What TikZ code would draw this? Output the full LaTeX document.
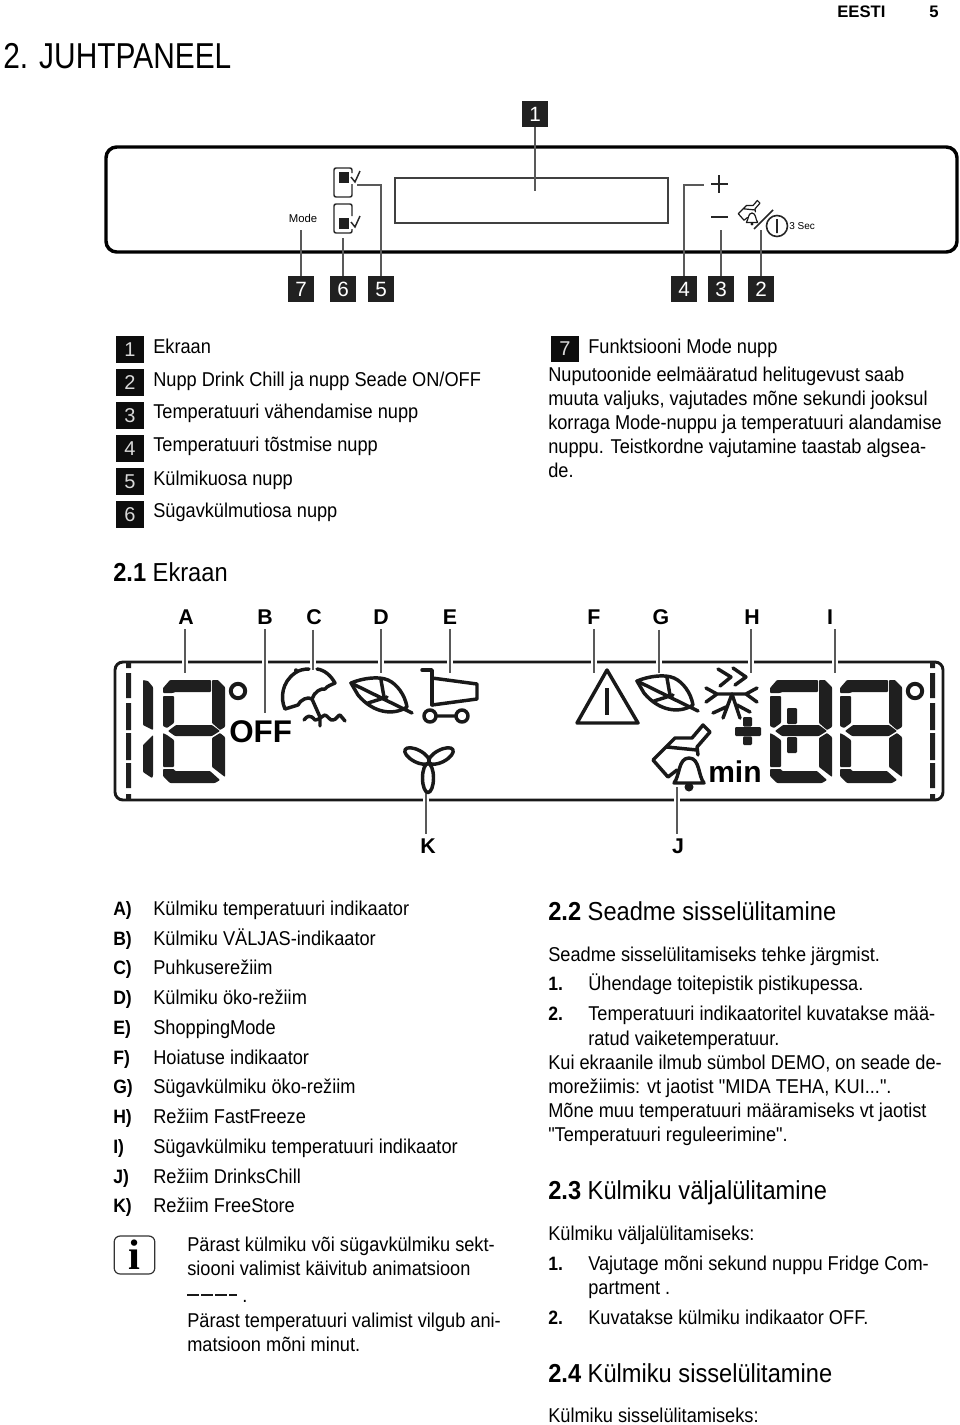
\documentclass[tikz,border=0pt]{standalone}
\usepackage{fontspec}
\usepackage{tikz}
\usetikzlibrary{positioning}
\setmainfont[FakeStretch=0.91,Ligatures=TeXOff]{Liberation Sans}
\newfontfamily\lcdfont{Liberation Sans}
\newfontfamily\headfont[FakeStretch=0.83]{Liberation Sans}
\newfontfamily\infofont{Liberation Serif}
\newcommand{\pxfont}[1]{\fontsize{#1}{#1}\selectfont}

\begin{document}
\begin{tikzpicture}[
  x=0.75pt, y=-0.75pt,
  txt/.style={anchor=base west, inner sep=0pt, font=\pxfont{15}},
  sect/.style={anchor=base west, inner sep=0pt, font=\pxfont{19.5}},
  badge/.style={fill=black!87, text=white, minimum size=19.5pt, inner sep=0pt, font=\lcdfont\pxfont{15.5}},
  listbadge/.style={fill=black!95, text=black!15, minimum width=21pt, minimum height=20pt, inner sep=0pt, text depth=-3pt, font=\lcdfont\pxfont{15}},
  lcdlabel/.style={inner sep=0pt, outer ysep=3.75pt, font=\lcdfont\bfseries\pxfont{16}},
  leader/.style={draw=black!65, line width=1.1pt},
  lcdleader/.style={leader, preaction={draw=white, line width=4.5pt}},
  icon/.style={draw=black!90, line width=2.6pt, line join=round, line cap=round},
  seg/.style={fill=black!88, rounded corners=0.6pt},
  digiteight/.pic={
    \fill[seg] (0,13) -- (0,8) -- (7,0) -- (48,0) -- (48,12) -- (12,12) -- (10,13) -- cycle;
    \fill[seg] (49,0) -- (55,0) -- (62,7) -- (62,47) -- (57,50) -- (49,43) -- cycle;
    \fill[seg] (0,16) -- (11,16) -- (11,43) -- (4,48) -- (0,46) -- cycle;
    \fill[seg] (5,51) -- (13,45) -- (49,45) -- (57,51) -- (49,56) -- (12,56) -- cycle;
    \fill[seg] (0,53) -- (4,55) -- (11,60) -- (11,87) -- (0,87) -- cycle;
    \fill[seg] (57,53) -- (62,57) -- (62,97) -- (49,87) -- (49,58) -- cycle;
    \fill[seg] (0,89) -- (11,89) -- (12,91) -- (47,91) -- (57,100) -- (52,103) -- (7,103) -- (0,96) -- cycle;
  },
  leaficon/.pic={
    \draw[icon] (0,0) .. controls (12,-5) and (28,-7) .. (37,-3) .. controls (46,1) and (54,12) .. (56,24)
      .. controls (42,33) and (22,30) .. (7,12) -- cycle;
    \draw[icon] (0,0) -- (61,30);
    \draw[icon] (30,-3) -- (33,14) (17,20) -- (36,14);
  },
  drinkbell/.pic={
    \draw[icon] (-36,2) -- (-14,-20) -- (3,-20) -- (14,-33) -- (21,-26) -- (8,-11) -- (9,-3)
      (-22,-11) -- (8,-8) (-36,2) -- (-21,19) -- (-12,12);
    \fill[black!90] (0,29) circle (4.5);
    \draw[icon, fill=white] (-15,25) .. controls (-9,18) and (-11,0) .. (0,0) .. controls (11,0) and (9,18) .. (15,25) -- cycle;
  },
]
\useasboundingbox (0,0) rectangle (960,1425);

% Header
\node[anchor=base west, inner sep=0pt, font=\lcdfont\bfseries\pxfont{12.5}] (langlabel) at (837,17) {EESTI};
\node[anchor=base west, inner sep=0pt, font=\lcdfont\bfseries\pxfont{12.5}] (pagelabel) at (929,17) {5};
\node[anchor=base west, inner sep=0pt, font=\headfont\pxfont{27}] (title) at (3,68) {2. JUHTPANEEL};

% Control panel
\draw[black, line width=2.6pt, rounded corners=8pt] (106,147) rectangle (957,252);
\draw[black!75, line width=1.1pt] (395,178) rectangle (668,223);
\node[inner sep=0pt, font=\lcdfont\pxfont{8.5}] (modelabel) at (303,218) {Mode};
\node[anchor=west, inner sep=0pt, font=\lcdfont\pxfont{7.5}] (seclabel) at (789,226) {3 Sec};

% Panel icons
\draw[black!85, line width=1.1pt, rounded corners=1.5pt] (352,173) -- (352,168) -- (334,168) -- (334,197) -- (352,197) -- (352,184);
\fill[black!88] (339,172) rectangle (349,183);
\draw[black!85, line width=1.1pt] (351,177) -- (355,182) -- (360,171);
\draw[black!85, line width=1.1pt, rounded corners=1.5pt] (352,216) -- (352,204) -- (334,204) -- (334,233) -- (352,233) -- (352,229);
\fill[black!88] (339,218) rectangle (349,229);
\draw[black!85, line width=1.1pt] (351,222) -- (355,227) -- (360,216);
\draw[black!85, line width=1.2pt] (711,184) -- (728,184) (719,175) -- (719,193);
\draw[black!85, line width=1.2pt] (711,217) -- (728,217);
\pic[scale=.38, icon/.append style={line width=0.9pt}] at (752,213) {drinkbell};
\draw[black!85, line width=1.2pt] (754,229) -- (773,210);
\draw[black!85, line width=1.2pt] (777,226) circle (10.5) (777,219) -- (777,233);

% Panel badges
\node[badge] (n1) at (535,114) {1};
\node[badge] (n7) at (301,289) {7};
\node[badge] (n6) at (343,289) {6};
\node[badge] (n5) at (381,289) {5};
\node[badge] (n4) at (684,289) {4};
\node[badge] (n3) at (721,289) {3};
\node[badge] (n2) at (761,289) {2};
\coordinate (c1) at (535,191);
\coordinate (c7) at (301,230);
\coordinate (c6) at (343,238);
\coordinate (c5) at (357,185);
\coordinate (c4) at (704,185);
\coordinate (c3) at (721,230);
\coordinate (c2) at (761,230);
\draw[leader] (n1) -- (c1);
\draw[leader] (n7) -- (c7);
\draw[leader] (n6) -- (c6);
\draw[leader] (n5.north) |- (c5);
\draw[leader] (n4.north) |- (c4);
\draw[leader] (n3) -- (c3);
\draw[leader] (n2) -- (c2);

% Key to the panel
\node[listbadge] (k1) at (130,349.5) {1};
\node[listbadge] (k2) at (130,382.5) {2};
\node[listbadge] (k3) at (130,415.5) {3};
\node[listbadge] (k4) at (130,448.5) {4};
\node[listbadge] (k5) at (130,481.5) {5};
\node[listbadge] (k6) at (130,514.5) {6};
\node[txt] (t1) at (153,353) {Ekraan};
\node[txt] (t2) at (153,386) {Nupp Drink Chill ja nupp Seade ON/OFF};
\node[txt] (t3) at (153,418) {Temperatuuri vähendamise nupp};
\node[txt] (t4) at (153,451) {Temperatuuri tõstmise nupp};
\node[txt] (t5) at (153,485) {Külmikuosa nupp};
\node[txt] (t6) at (153,517) {Sügavkülmutiosa nupp};
\node[listbadge] (k7) at (565,349) {7};
\node[txt] (m1) at (588,353) {Funktsiooni Mode nupp};
\node[txt] (m2) at (548,381) {Nuputoonide eelmääratud helitugevust saab};
\node[txt] (m3) at (548,405) {muuta valjuks, vajutades mõne sekundi jooksul};
\node[txt] (m4) at (548,429) {korraga Mode-nuppu ja temperatuuri alandamise};
\node[txt] (m5) at (548,453) {nuppu. Teistkordne vajutamine taastab algsea-};
\node[txt] (m6) at (548,477) {de.};

% Display
\node[sect] (sec21) at (113,581) {\textbf{2.1} Ekraan};
\draw[black!90, line width=2.2pt, rounded corners=6pt] (115,662) rectangle (943,800);
\fill[black!88] (126,662) rectangle (131,668) (126,673) rectangle (131,698) (126,703) rectangle (131,730) (126,733) rectangle (131,760) (126,763) rectangle (131,788) (126,794) rectangle (131,800);
\fill[black!88] (930,662) rectangle (935,668) (930,673) rectangle (935,698) (930,703) rectangle (935,730) (930,733) rectangle (935,760) (930,763) rectangle (935,788) (930,794) rectangle (935,800);

% Display letters
\node[lcdlabel] (lblA) at (186,617) {A};
\node[lcdlabel] (lblB) at (265,617) {B};
\node[lcdlabel] (lblC) at (314,617) {C};
\node[lcdlabel] (lblD) at (381,617) {D};
\node[lcdlabel] (lblE) at (450,617) {E};
\node[lcdlabel] (lblF) at (594,617) {F};
\node[lcdlabel] (lblG) at (661,617) {G};
\node[lcdlabel] (lblH) at (752,617) {H};
\node[lcdlabel] (lblI) at (830,617) {I};
\node[lcdlabel] (lblK) at (428,846) {K};
\node[lcdlabel] (lblJ) at (678,846) {J};
\coordinate (endA) at (185,673);
\coordinate (endB) at (265,713);
\coordinate (endC) at (313,670);
\coordinate (endD) at (381,673);
\coordinate (endE) at (450,673);
\coordinate (endF) at (594,673);
\coordinate (endG) at (659,673);
\coordinate (endH) at (751,673);
\coordinate (endI) at (835,673);
\coordinate (endK) at (426,793);
\coordinate (endJ) at (677,787);
\draw[lcdleader] (lblA.south -| endA) -- (endA);
\draw[lcdleader] (lblB.south -| endB) -- (endB);
\draw[lcdleader] (lblC.south -| endC) -- (endC);
\draw[lcdleader] (lblD.south -| endD) -- (endD);
\draw[lcdleader] (lblE.south -| endE) -- (endE);
\draw[lcdleader] (lblF.south -| endF) -- (endF);
\draw[lcdleader] (lblG.south -| endG) -- (endG);
\draw[lcdleader] (lblH.south -| endH) -- (endH);
\draw[lcdleader] (lblI.south -| endI) -- (endI);
\draw[lcdleader] (lblK.north -| endK) -- (endK);
\draw[lcdleader] (lblJ.north -| endJ) -- (endJ);

% Digits
\fill[seg] (143,680) -- (148,681) -- (153,687) -- (153,730) -- (143,725) -- cycle;
\fill[seg] (153,735) -- (143,745) -- (143,772) -- (152,778) -- (153,776) -- cycle;
\pic at (163,680) {digiteight};
\pic at (770,680) {digiteight};
\pic at (840,680) {digiteight};
\draw[icon, line width=3pt] (238,691) circle (7.2);
\draw[icon, line width=3pt] (915,691) circle (7.2);
\fill[black!88, rounded corners=0.8pt] (787,708) rectangle (797,724) (787,737) rectangle (797,753);
\node[inner sep=0pt, font=\lcdfont\bfseries\pxfont{23.5}, anchor=base west] (offlabel) at (229,742) {OFF};
\node[inner sep=0pt, font=\lcdfont\bfseries\pxfont{22.5}, anchor=base west] (minlabel) at (708,782) {min};

% Parasol
\draw[icon] (285,709) .. controls (280,698) and (282,682) .. (295,673) .. controls (299,670) and (304,669) .. (309,669)
  (317,669) .. controls (325,670) and (331,676) .. (335,683)
  .. controls (331,685) and (327,686) .. (325,689) .. controls (321,688) and (314,692) .. (312,699)
  .. controls (308,696) and (300,700) .. (298,705) -- (285,709);
\draw[icon] (312,699) -- (320,717) -- (320,726);
\draw[icon] (304,720) .. controls (307,716) and (310,714) .. (315,720) .. controls (319,720) and (322,716) .. (325,715)
  .. controls (328,716) and (330,721) .. (333,720) .. controls (336,720) and (338,715) .. (340,715) -- (345,721);
\draw[icon] (296,671) -- (296,670);

% Leaves
\pic at (351,683) {leaficon};
\pic at (637,681) {leaficon};

% Trolley
\draw[icon] (422,670) -- (432,670) -- (432,705);
\draw[icon] (432,678) -- (477,684) -- (477,699) -- (432,705);
\draw[icon] (430,716) circle (6) (462,716) circle (6) (436,716) -- (456,716);

% Fan
\draw[icon] (428,778) ellipse (5.5 and 14.5);
\draw[icon, rotate around={-28:(417,756)}] (417,756) ellipse (13.5 and 6);
\draw[icon, rotate around={28:(441,756)}] (441,756) ellipse (13.5 and 6);

% Warning
\draw[icon] (607,670) -- (577,723) -- (638,723) -- cycle;
\draw[icon, line width=3pt, line cap=butt] (607,688) -- (607,715);

% Fast freeze
\draw[icon] (718,669) -- (731,677) -- (720,686) (733,668) -- (746,677) -- (735,685);
\draw[icon] (717,694) -- (746,694) (706,688) -- (717,694) -- (706,702) (757,688) -- (746,694) -- (757,702);
\draw[icon] (732,694) -- (723,718) (713,713) -- (726,707) (732,694) -- (740,718) (750,712) -- (737,705);
\fill[black!88, rounded corners=0.8pt] (735,727) rectangle (761,736) (743,717) rectangle (752,726.5) (743,736.5) rectangle (752,745);

% Drink bell
\pic at (689,758) {drinkbell};

% Legend
\node[txt, font=\bfseries\pxfont{14.5}] (qA) at (113,915) {A)};
\node[txt, font=\bfseries\pxfont{14.5}] (qB) at (113,945) {B)};
\node[txt, font=\bfseries\pxfont{14.5}] (qC) at (113,974) {C)};
\node[txt, font=\bfseries\pxfont{14.5}] (qD) at (113,1004) {D)};
\node[txt, font=\bfseries\pxfont{14.5}] (qE) at (113,1034) {E)};
\node[txt, font=\bfseries\pxfont{14.5}] (qF) at (113,1064) {F)};
\node[txt, font=\bfseries\pxfont{14.5}] (qG) at (113,1093) {G)};
\node[txt, font=\bfseries\pxfont{14.5}] (qH) at (113,1123) {H)};
\node[txt, font=\bfseries\pxfont{14.5}] (qI) at (113,1153) {I)};
\node[txt, font=\bfseries\pxfont{14.5}] (qJ) at (113,1183) {J)};
\node[txt, font=\bfseries\pxfont{14.5}] (qK) at (113,1212) {K)};
\node[txt] (dA) at (153,915) {Külmiku temperatuuri indikaator};
\node[txt] (dB) at (153,945) {Külmiku VÄLJAS-indikaator};
\node[txt] (dC) at (153,974) {Puhkuserežiim};
\node[txt] (dD) at (153,1004) {Külmiku öko-režiim};
\node[txt] (dE) at (153,1034) {ShoppingMode};
\node[txt] (dF) at (153,1064) {Hoiatuse indikaator};
\node[txt] (dG) at (153,1093) {Sügavkülmiku öko-režiim};
\node[txt] (dH) at (153,1123) {Režiim FastFreeze};
\node[txt] (dI) at (153,1153) {Sügavkülmiku temperatuuri indikaator};
\node[txt] (dJ) at (153,1183) {Režiim DrinksChill};
\node[txt] (dK) at (153,1212) {Režiim FreeStore};

% Note
\node[draw=black!80, line width=0.9pt, rounded corners=4.5pt, minimum width=30.5pt, minimum height=28.5pt, inner sep=0pt, font=\infofont\bfseries\pxfont{32}] (infobox) at (134.5,1255) {i};
\node[txt] (n1l) at (187,1251) {Pärast külmiku või sügavkülmiku sekt-};
\node[txt] (n2l) at (187,1275) {siooni valimist käivitub animatsioon};
\draw[black!90, line width=1.6pt, dash pattern=on 9pt off 1.5pt] (187,1295) -- (237,1295);
\node[txt] (n3l) at (242,1302) {.};
\node[txt] (n4l) at (187,1327) {Pärast temperatuuri valimist vilgub ani-};
\node[txt] (n5l) at (187,1351) {matsioon mõni minut.};

% Switching on
\node[sect] (sec22) at (548,920) {\textbf{2.2} Seadme sisselülitamine};
\node[txt] (a1) at (548,961) {Seadme sisselülitamiseks tehke järgmist.};
\node[txt, font=\bfseries\pxfont{14.5}] (a2n) at (548,990) {1.};
\node[txt] (a2) at (588,990) {Ühendage toitepistik pistikupessa.};
\node[txt, font=\bfseries\pxfont{14.5}] (a3n) at (548,1020) {2.};
\node[txt] (a3) at (588,1020) {Temperatuuri indikaatoritel kuvatakse mää-};
\node[txt] (a4) at (588,1045) {ratud vaiketemperatuur.};
\node[txt] (a5) at (548,1069) {Kui ekraanile ilmub sümbol DEMO, on seade de-};
\node[txt] (a6) at (548,1093) {morežiimis: vt jaotist "MIDA TEHA, KUI...".};
\node[txt] (a7) at (548,1117) {Mõne muu temperatuuri määramiseks vt jaotist};
\node[txt] (a8) at (548,1141) {"Temperatuuri reguleerimine".};

% Switching off
\node[sect] (sec23) at (548,1199) {\textbf{2.3} Külmiku väljalülitamine};
\node[txt] (b1) at (548,1240) {Külmiku väljalülitamiseks:};
\node[txt, font=\bfseries\pxfont{14.5}] (b2n) at (548,1270) {1.};
\node[txt] (b2) at (588,1270) {Vajutage mõni sekund nuppu Fridge Com-};
\node[txt] (b3) at (588,1294) {partment .};
\node[txt, font=\bfseries\pxfont{14.5}] (b4n) at (548,1324) {2.};
\node[txt] (b4) at (588,1324) {Kuvatakse külmiku indikaator OFF.};

% Fridge on
\node[sect] (sec24) at (548,1382) {\textbf{2.4} Külmiku sisselülitamine};
\node[txt] (c1l) at (548,1422) {Külmiku sisselülitamiseks:};
\end{tikzpicture}
\end{document}
